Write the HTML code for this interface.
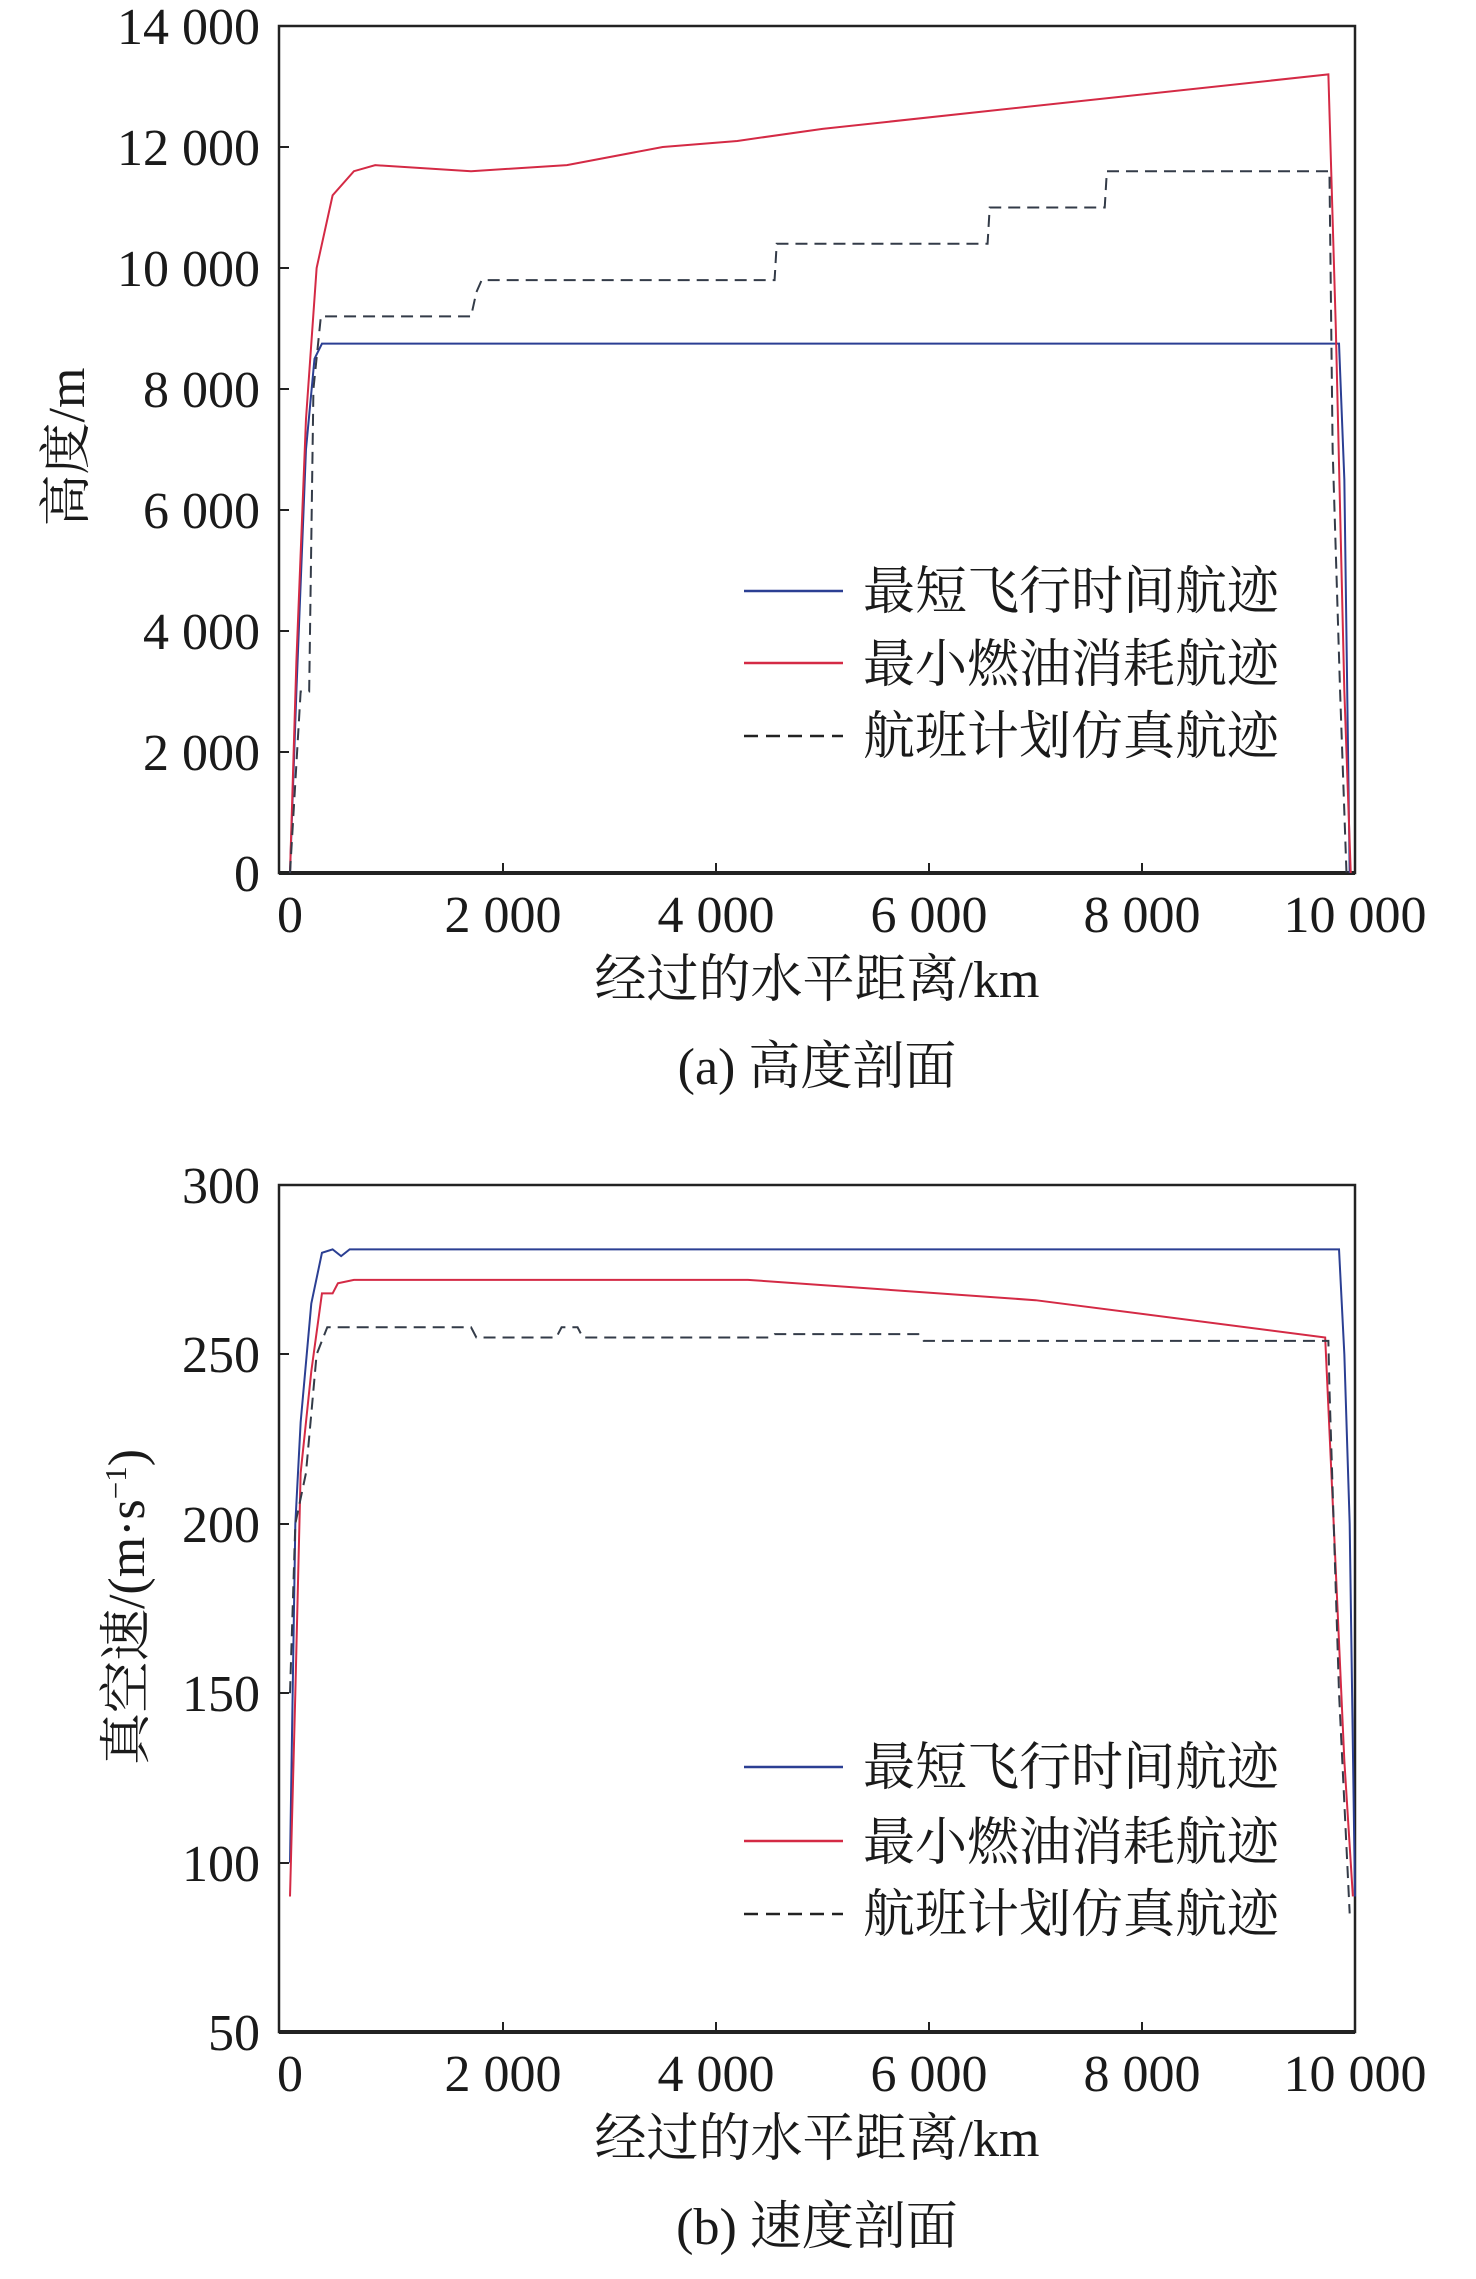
<!DOCTYPE html>
<html><head><meta charset="utf-8"><style>
body{margin:0;background:#fff}
svg text{font-family:"Liberation Serif","Noto Serif CJK SC",serif;fill:#1a1a1a}
</style></head><body>
<svg width="1476" height="2274" xmlns="http://www.w3.org/2000/svg">
<!-- Chart A -->
<rect x="279" y="26" width="1076" height="847" fill="none" stroke="#222" stroke-width="2.5"/>
<line x1="279" y1="873" x2="1355" y2="873" stroke="#222" stroke-width="4"/>
<g stroke="#222" stroke-width="2">
<line x1="503" y1="873" x2="503" y2="863"/><line x1="716" y1="873" x2="716" y2="863"/><line x1="929" y1="873" x2="929" y2="863"/><line x1="1142" y1="873" x2="1142" y2="863"/>
<line x1="279" y1="147" x2="289" y2="147"/><line x1="279" y1="268" x2="289" y2="268"/><line x1="279" y1="389" x2="289" y2="389"/><line x1="279" y1="510" x2="289" y2="510"/><line x1="279" y1="631" x2="289" y2="631"/><line x1="279" y1="752" x2="289" y2="752"/>
</g>
<g font-size="52" text-anchor="end">
<text x="260" y="44">14 000</text><text x="260" y="165">12 000</text><text x="260" y="286">10 000</text><text x="260" y="407">8 000</text><text x="260" y="528">6 000</text><text x="260" y="649">4 000</text><text x="260" y="770">2 000</text><text x="260" y="891">0</text>
</g>
<g font-size="52" text-anchor="middle">
<text x="290" y="932">0</text><text x="503" y="932">2 000</text><text x="716" y="932">4 000</text><text x="929" y="932">6 000</text><text x="1142" y="932">8 000</text><text x="1355" y="932">10 000</text>
</g>
<text x="817" y="997" font-size="52" text-anchor="middle">经过的水平距离/km</text>
<text x="817" y="1084" font-size="52" text-anchor="middle">(a) 高度剖面</text>
<text transform="translate(84,447) rotate(-90)" font-size="52" text-anchor="middle">高度/m</text>
<g transform="translate(290,873) scale(0.1065,-0.0605)" fill="none" stroke-width="2">
<polyline vector-effect="non-scaling-stroke" stroke="#2b3f93" points="0,0 60,3000 150,7000 230,8500 300,8750 9850,8750 9900,6500 9950,0"/>
<polyline vector-effect="non-scaling-stroke" stroke="#d42a45" points="0,0 60,3500 150,7500 250,10000 400,11200 600,11600 800,11700 1700,11600 2600,11700 3500,12000 4200,12100 5000,12300 9750,13200 9820,9000 9900,3000 9960,0"/>
<polyline vector-effect="non-scaling-stroke" stroke="#333b48" stroke-dasharray="12,7" points="0,0 100,3000 180,3000 220,8000 290,9200 1700,9200 1750,9600 1800,9800 4550,9800 4570,10400 6550,10400 6570,11000 7650,11000 7670,11600 9760,11600 9790,7000 9860,3000 9920,0"/>
</g>
<g stroke-width="2.5">
<line x1="744" y1="591" x2="843" y2="591" stroke="#2b3f93"/>
<line x1="744" y1="663" x2="843" y2="663" stroke="#d42a45"/>
<line x1="744" y1="736" x2="843" y2="736" stroke="#222" stroke-dasharray="14,8"/>
</g>
<g font-size="52"><text x="863" y="609">最短飞行时间航迹</text><text x="863" y="682">最小燃油消耗航迹</text><text x="863" y="754">航班计划仿真航迹</text></g>

<!-- Chart B -->
<rect x="279" y="1185" width="1076" height="847" fill="none" stroke="#222" stroke-width="2.5"/>
<line x1="279" y1="2032" x2="1355" y2="2032" stroke="#222" stroke-width="4"/>
<g stroke="#222" stroke-width="2">
<line x1="503" y1="2032" x2="503" y2="2022"/><line x1="716" y1="2032" x2="716" y2="2022"/><line x1="929" y1="2032" x2="929" y2="2022"/><line x1="1142" y1="2032" x2="1142" y2="2022"/>
<line x1="279" y1="1354" x2="289" y2="1354"/><line x1="279" y1="1524" x2="289" y2="1524"/><line x1="279" y1="1693" x2="289" y2="1693"/><line x1="279" y1="1863" x2="289" y2="1863"/>
</g>
<g font-size="52" text-anchor="end">
<text x="260" y="1203">300</text><text x="260" y="1372">250</text><text x="260" y="1542">200</text><text x="260" y="1711">150</text><text x="260" y="1881">100</text><text x="260" y="2050">50</text>
</g>
<g font-size="52" text-anchor="middle">
<text x="290" y="2091">0</text><text x="503" y="2091">2 000</text><text x="716" y="2091">4 000</text><text x="929" y="2091">6 000</text><text x="1142" y="2091">8 000</text><text x="1355" y="2091">10 000</text>
</g>
<text x="817" y="2156" font-size="52" text-anchor="middle">经过的水平距离/km</text>
<text x="817" y="2244" font-size="52" text-anchor="middle">(b) 速度剖面</text>
<text transform="translate(144,1607) rotate(-90)" font-size="52" text-anchor="middle">真空速/(m·s<tspan font-size="31" dy="-18">−1</tspan><tspan dy="18">)</tspan></text>
<g transform="translate(290,2201.4) scale(0.1065,-3.388)" fill="none" stroke-width="2">
<polyline vector-effect="non-scaling-stroke" stroke="#2b3f93" points="0,100 50,200 100,230 200,265 300,280 400,281 480,279 560,281 9850,281 9900,250 9950,200 10000,90"/>
<polyline vector-effect="non-scaling-stroke" stroke="#d42a45" points="0,90 50,150 100,215 200,245 300,268 400,268 450,271 600,272 4300,272 7000,266 9720,255 9800,200 9900,130 9980,90"/>
<polyline vector-effect="non-scaling-stroke" stroke="#333b48" stroke-dasharray="12,7" points="0,150 50,200 150,215 250,250 350,258 1700,258 1750,255 2500,255 2550,258 2700,258 2750,255 4500,255 4550,256 5900,256 5950,254 9750,254 9760,240 9850,150 9950,85"/>
</g>
<g stroke-width="2.5">
<line x1="744" y1="1767" x2="843" y2="1767" stroke="#2b3f93"/>
<line x1="744" y1="1841" x2="843" y2="1841" stroke="#d42a45"/>
<line x1="744" y1="1914" x2="843" y2="1914" stroke="#222" stroke-dasharray="14,8"/>
</g>
<g font-size="52"><text x="863" y="1785">最短飞行时间航迹</text><text x="863" y="1860">最小燃油消耗航迹</text><text x="863" y="1932">航班计划仿真航迹</text></g>
</svg>
</body></html>
